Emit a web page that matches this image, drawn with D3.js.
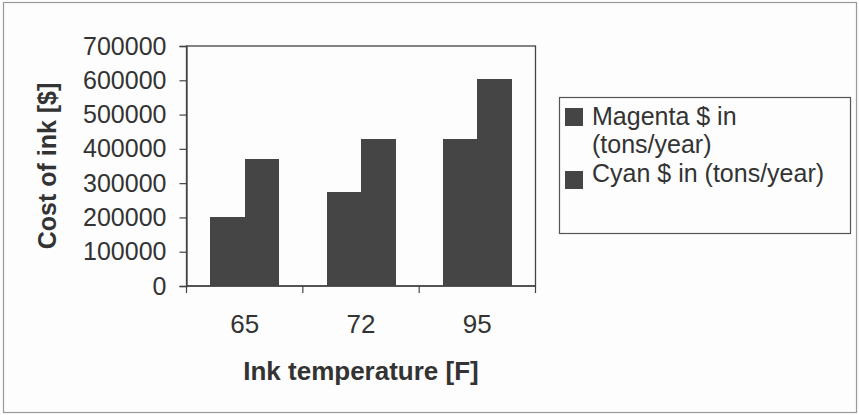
<!DOCTYPE html>
<html>
<head>
  <meta charset="utf-8">
  <style>
    body { margin: 0; background: #fdfdfd; }
    text { font-family: "Liberation Sans", Arial, sans-serif; fill: #333; }
  </style>
</head>
<body>
<script src="https://d3js.org/d3.v7.min.js"></script>
<script>

// data
var temperatures = ["65", "72", "95"];
var seriesNames = ["Magenta $ in (tons/year)", "Cyan $ in (tons/year)"];
var magentaCost = [200000, 275000, 430000];
var cyanCost = [370000, 430000, 605000];
var yTicks = [0, 100000, 200000, 300000, 400000, 500000, 600000, 700000];

var barColor = "#454545";

var svg = d3.select("body").append("svg")
  .attr("width", 859)
  .attr("height", 415);

// outer chart frame
svg.append("rect")
  .attr("x", 3.5).attr("y", 2.5)
  .attr("width", 853).attr("height", 410)
  .attr("fill", "#fdfdfd")
  .attr("stroke", "#9a9a9a")
  .attr("stroke-width", 1.2);

var plot = {left: 186.5, right: 535.5, top: 46, bottom: 286};

var x = d3.scaleBand()
  .domain(temperatures)
  .range([plot.left, plot.right])
  .paddingInner(0.41)
  .paddingOuter(0.205);

var xSub = d3.scaleBand()
  .domain([0, 1])
  .range([0, x.bandwidth()]);

var y = d3.scaleLinear()
  .domain([0, 700000])
  .range([plot.bottom, plot.top]);

// plot area border
svg.append("rect")
  .attr("x", plot.left).attr("y", plot.top)
  .attr("width", plot.right - plot.left)
  .attr("height", plot.bottom - plot.top)
  .attr("fill", "none")
  .attr("stroke", "#444")
  .attr("stroke-width", 1.3);

// bars
var rows = temperatures.map(function(t, i) {
  return {t: t, vals: [magentaCost[i], cyanCost[i]]};
});

var groups = svg.selectAll(".grp")
  .data(rows)
  .enter().append("g")
  .attr("transform", function(d) { return "translate(" + x(d.t) + ",0)"; });

groups.selectAll("rect")
  .data(function(d) { return d.vals; })
  .enter().append("rect")
  .attr("x", function(d, i) { return xSub(i); })
  .attr("y", function(d) { return y(d); })
  .attr("width", xSub.bandwidth() + 0.5)
  .attr("height", function(d) { return y(0) - y(d); })
  .attr("fill", barColor)
  .attr("shape-rendering", "crispEdges");

// y axis
var yAxis = svg.append("g")
  .attr("transform", "translate(" + plot.left + ",0)")
  .call(d3.axisLeft(y).tickValues(yTicks).tickFormat(d3.format("d")).tickSize(7).tickPadding(13));
yAxis.select(".domain").attr("stroke", "#444").attr("stroke-width", 1.3);
yAxis.selectAll(".tick line").attr("stroke", "#444").attr("stroke-width", 1.2);
yAxis.selectAll(".tick text")
  .attr("font-size", 25)
  .attr("font-family", "Liberation Sans, Arial, sans-serif")
  .attr("fill", "#333");

// x axis: ticks sit on category boundaries
var xAxis = svg.append("g")
  .attr("transform", "translate(0," + plot.bottom + ")");
xAxis.append("line")
  .attr("x1", plot.left).attr("x2", plot.right)
  .attr("stroke", "#444").attr("stroke-width", 1.3);
var bounds = d3.range(temperatures.length + 1).map(function(i) { return plot.left + i * (plot.right - plot.left) / temperatures.length; });
xAxis.selectAll(".xt")
  .data(bounds)
  .enter().append("line")
  .attr("x1", function(d) { return d; })
  .attr("x2", function(d) { return d; })
  .attr("y1", 0).attr("y2", 7)
  .attr("stroke", "#444").attr("stroke-width", 1.2);
xAxis.selectAll(".xl")
  .data(temperatures)
  .enter().append("text")
  .attr("x", function(d) { return x(d) + x.bandwidth() / 2; })
  .attr("y", 47)
  .attr("text-anchor", "middle")
  .attr("font-size", 26)
  .text(function(d) { return d; });

// axis titles
svg.append("text")
  .attr("x", 361)
  .attr("y", 380)
  .attr("text-anchor", "middle")
  .attr("font-size", 26)
  .attr("font-weight", "bold")
  .text("Ink temperature [F]");

svg.append("text")
  .attr("transform", "translate(56,166) rotate(-90)")
  .attr("text-anchor", "middle")
  .attr("font-size", 25)
  .attr("font-weight", "bold")
  .text("Cost of ink [$]");

// legend
var legend = svg.append("g");
legend.append("rect")
  .attr("x", 559.5).attr("y", 97.5)
  .attr("width", 291).attr("height", 136)
  .attr("fill", "#fdfdfd")
  .attr("stroke", "#555")
  .attr("stroke-width", 1.2);

var legendLines = [
  [{text: "Magenta $ in", y: 125}, {text: "(tons/year)", y: 153}],
  [{text: "Cyan $ in (tons/year)", y: 182}]
];
var swatchY = [108, 171];

legendLines.forEach(function(lines, i) {
  legend.append("rect")
    .attr("x", 565).attr("y", swatchY[i])
    .attr("width", 18).attr("height", 18)
    .attr("fill", barColor);
  lines.forEach(function(l) {
    legend.append("text")
      .attr("x", 592)
      .attr("y", l.y)
      .attr("font-size", 25)
      .text(l.text);
  });
});

</script>
</body>
</html>
